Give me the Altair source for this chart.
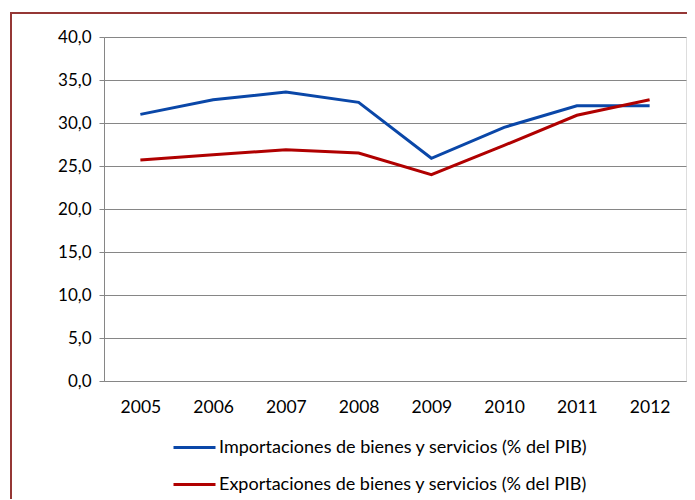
import altair as alt
import pandas as pd

years = ["2005", "2006", "2007", "2008", "2009", "2010", "2011", "2012"]
importaciones = [31.0, 32.7, 33.6, 32.4, 25.9, 29.5, 32.0, 32.0]
exportaciones = [25.7, 26.3, 26.9, 26.5, 24.0, 27.4, 30.9, 32.7]
series_names = [
    "Importaciones de bienes y servicios (% del PIB)",
    "Exportaciones de bienes y servicios (% del PIB)",
]
colors = ["#0A47A8", "#B00000"]
y_ticks = [0, 5, 10, 15, 20, 25, 30, 35, 40]

rows = []
for y, v in zip(years, importaciones):
    rows.append({"year": y, "value": v, "serie": series_names[0]})
for y, v in zip(years, exportaciones):
    rows.append({"year": y, "value": v, "serie": series_names[1]})
df = pd.DataFrame(rows)

W, H = 582, 344
FONT = "Lato"
GRID = "#868686"
BORDER = "#953735"

lines = alt.Chart(df).mark_line(strokeWidth=3).encode(
    x=alt.X(
        "year:O",
        sort=years,
        scale=alt.Scale(type="point", padding=0.5),
        axis=alt.Axis(
            title=None, labelAngle=0, ticks=False, domain=True,
            domainColor=GRID, labelFontSize=17.5, labelPadding=17,
            labelBaseline="top", labelColor="#000000", labelFont=FONT,
        ),
    ),
    y=alt.Y(
        "value:Q",
        scale=alt.Scale(domain=[0, 40], nice=False),
        axis=alt.Axis(
            title=None, values=y_ticks,
            labelExpr="replace(format(datum.value, '.1f'), '.', ',')",
            grid=True, gridColor=GRID, gridWidth=1,
            domain=True, domainColor=GRID, ticks=True, tickColor=GRID,
            tickSize=5, labelFontSize=17, labelPadding=8,
            labelColor="#000000", labelFont=FONT,
        ),
    ),
    color=alt.Color(
        "serie:N",
        scale=alt.Scale(domain=series_names, range=colors),
        legend=alt.Legend(
            title=None, orient="none", legendX=68, legendY=388,
            direction="vertical", symbolType="stroke", symbolSize=1764,
            symbolStrokeWidth=3, labelFontSize=18, labelFont=FONT,
            labelColor="#000000", rowPadding=5, labelOffset=2,
            labelLimit=600,
        ),
    ),
)

border_data = alt.Data(values=[{}])
left_border = alt.Chart(border_data).mark_rule(color=BORDER, strokeWidth=2).encode(
    x=alt.value(-93), y=alt.value(-25), y2=alt.value(H + 200)
)
top_border = alt.Chart(border_data).mark_rule(color=BORDER, strokeWidth=2).encode(
    x=alt.value(-94), x2=alt.value(W + 50), y=alt.value(-24)
)

chart = alt.layer(lines, left_border, top_border).properties(
    width=W, height=H,
    autosize=alt.AutoSizeParams(type="none"),
    padding={"left": 96, "top": 29, "right": 1, "bottom": 118},
).configure_view(stroke=None).configure(background="white")

chart.save("out.html", embed_options={"renderer": "svg", "actions": False})
